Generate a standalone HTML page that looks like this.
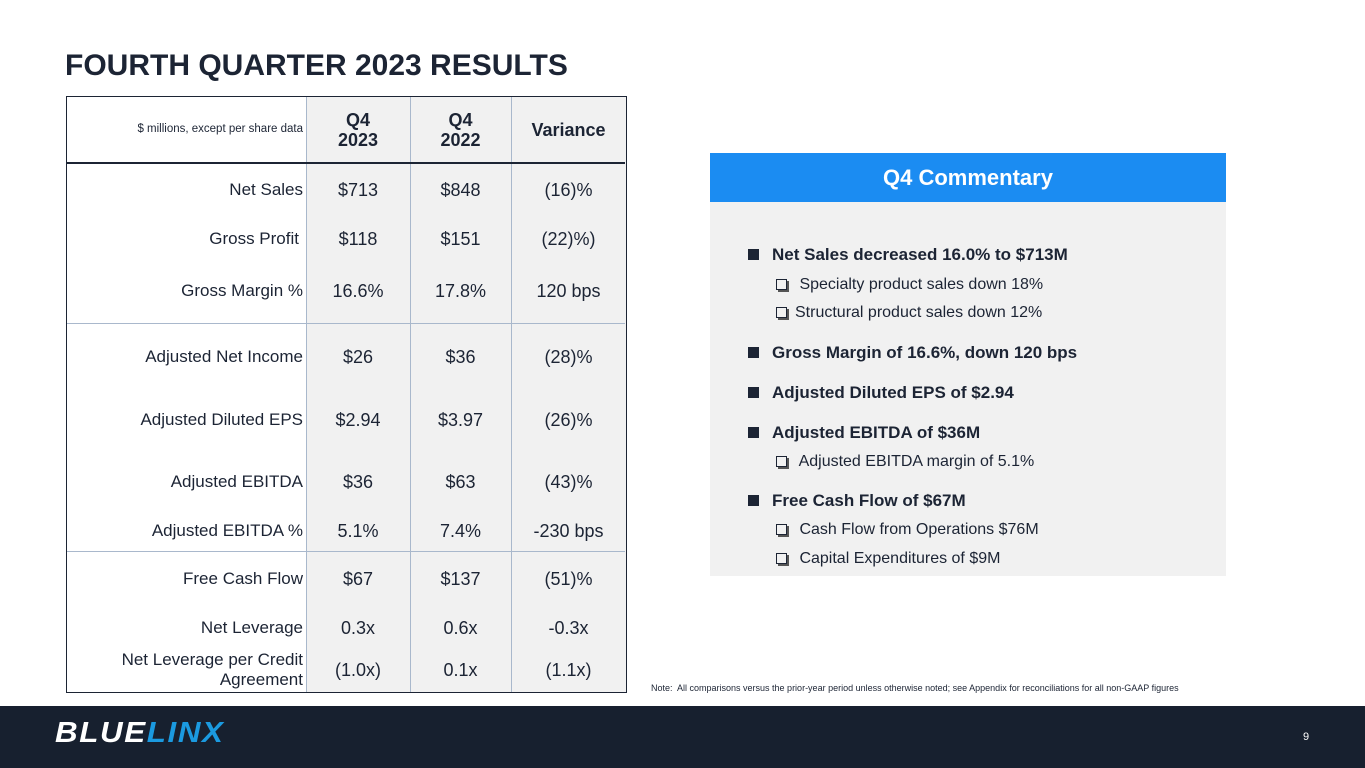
<!DOCTYPE html>
<html><head><meta charset="utf-8"><style>
*{margin:0;padding:0;box-sizing:border-box}
body{width:1365px;height:768px;position:relative;background:#fff;font-family:"Liberation Sans",sans-serif;color:#1c2434;overflow:hidden}
.a{position:absolute}
.t{position:absolute;white-space:nowrap;font-size:17px;color:#1c2434}
.r{text-align:right}.c{text-align:center}
.hb{font-weight:bold;font-size:18px;line-height:20px}
.cm{position:absolute;left:772px;font-size:17px;font-weight:bold;color:#1c2434;white-space:nowrap}
.cs{position:absolute;left:776px;font-size:16px;color:#1c2434;white-space:nowrap}
.sq{display:inline-block;width:11px;height:11px;background:#1c2434;position:absolute;left:-24px;top:4px}
.bx{display:inline-block;width:11px;height:11px;border:1.5px solid #1c2434;margin-right:8px;vertical-align:-1px;box-shadow:2px 2px 0 #555}
</style></head><body>
<div class="t" style="left:65px;top:49px;font-size:30px;font-weight:bold;color:#1c2434">FOURTH QUARTER 2023 RESULTS</div>

<div class="a" style="left:66px;top:96px;width:561px;height:597px;border:1.5px solid #1c2434;overflow:hidden">
 <div class="a" style="left:239px;top:0;width:320px;height:595px;background:#f1f1f1"></div>
 <div class="a" style="left:239px;top:0;width:1px;height:595px;background:#a9b8cc"></div>
 <div class="a" style="left:343px;top:0;width:1px;height:595px;background:#a9b8cc"></div>
 <div class="a" style="left:444px;top:0;width:1px;height:595px;background:#a9b8cc"></div>
 <div class="a" style="left:0;top:65px;width:558px;height:2px;background:#1c2434"></div>
 <div class="a" style="left:0;top:226px;width:558px;height:1px;background:#a9b8cc"></div>
 <div class="a" style="left:0;top:454px;width:558px;height:1px;background:#a9b8cc"></div>
</div>
<div class="t r" style="left:66px;width:237px;top:123px;font-size:11.5px">$ millions, except per share data</div>
<div class="t c hb" style="left:306px;width:104px;top:110px">Q4<br>2023</div>
<div class="t c hb" style="left:410px;width:101px;top:110px">Q4<br>2022</div>
<div class="t c hb" style="left:511px;width:115px;top:120px">Variance</div>
<div id="rows"></div>

<div class="a" style="left:710px;top:153px;width:516px;height:423px;background:#f1f1f1"></div>
<div class="a c" style="left:710px;top:153px;width:516px;height:49px;background:#1b8cf2;color:#fff;font-weight:bold;font-size:22px;line-height:49px">Q4 Commentary</div>
<div class="cm" style="top:245px"><span class="sq"></span>Net Sales decreased 16.0% to $713M</div>
<div class="cs" style="top:276px"><span class="bx"></span> Specialty product sales down 18%</div>
<div class="cs" style="top:304px;left:776px"><span class="bx"></span>Structural product sales down 12%</div>
<div class="cm" style="top:343px"><span class="sq"></span>Gross Margin of 16.6%, down 120 bps</div>
<div class="cm" style="top:383px"><span class="sq"></span>Adjusted Diluted EPS of $2.94</div>
<div class="cm" style="top:423px"><span class="sq"></span>Adjusted EBITDA of $36M</div>
<div class="cs" style="top:453px"><span class="bx"></span> Adjusted EBITDA margin of 5.1%</div>
<div class="cm" style="top:491px"><span class="sq"></span>Free Cash Flow of $67M</div>
<div class="cs" style="top:521px"><span class="bx"></span> Cash Flow from Operations $76M</div>
<div class="cs" style="top:550px"><span class="bx"></span> Capital Expenditures of $9M</div>

<div class="t" style="left:651px;top:683px;font-size:9px">Note:&nbsp; All comparisons versus the prior-year period unless otherwise noted; see Appendix for reconciliations for all non-GAAP figures</div>

<div class="a" style="left:0;top:706px;width:1365px;height:62px;background:#17202f"></div>
<div class="t" style="left:55px;top:717px;font-size:29px;font-weight:bold;font-style:italic;letter-spacing:1.5px;transform:scaleX(1.08);transform-origin:left"><span style="color:#fff">BLUE</span><span style="color:#1b9ae0">LINX</span></div>
<div class="t" style="left:1303px;top:731px;font-size:11px;color:#fff">9</div>

<script>
const labels=["Net Sales","Gross Profit","Gross Margin %","Adjusted Net Income","Adjusted Diluted EPS","Adjusted EBITDA","Adjusted EBITDA %","Free Cash Flow","Net Leverage","Net Leverage per Credit<br>Agreement"];
const q42023=["$713","$118","16.6%","$26","$2.94","$36","5.1%","$67","0.3x","(1.0x)"];
const q42022=["$848","$151","17.8%","$36","$3.97","$63","7.4%","$137","0.6x","0.1x"];
const variance=["(16)%","(22)%)","120 bps","(28)%","(26)%","(43)%","-230 bps","(51)%","-0.3x","(1.1x)"];
const rowY=[190,239,291,357,420,482,531,579,628,670];
const host=document.getElementById('rows');
labels.forEach((l,i)=>{
 const y=rowY[i];
 const mk=(txt,left,w,cls,name,lh,fs)=>{const d=document.createElement('div');d.className='t '+cls;d.style.left=left+'px';d.style.width=w+'px';d.style.top=(y-(lh?20:10))+'px';if(lh)d.style.lineHeight='20px';if(fs)d.style.fontSize=fs;d.innerHTML=txt;
 
 
 host.appendChild(d);};
 mk(l,66,237+(i==1?-4:0),'r','row-label',l.includes('<br>'));
 mk(q42023[i],306,104,'c','value-q4-2023',false,'18px');
 mk(q42022[i],410,101,'c','value-q4-2022',false,'18px');
 mk(variance[i],511,115,'c','value-variance',false,'18px');
});
</script>
</body></html>
